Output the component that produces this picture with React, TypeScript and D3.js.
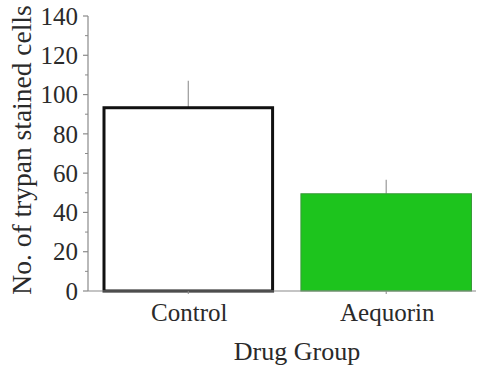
import React from "react";
import * as d3 from "d3";

const categories = ["Control", "Aequorin"];
const means = [93.3, 49.5];
const errors = [13.7, 7.2];
const yTicks = [0, 20, 40, 60, 80, 100, 120, 140];
const minorTicks = [10, 30, 50, 70, 90, 110, 130];
const fills = ["#ffffff", "#1dc41d"];
const strokes = ["#111111", "#3a9a3a"];
const strokeWidths = [3, 1];

export default function App() {
  const W = 481, H = 367;
  const left = 88, right = 476, top = 16, bottom = 291;
  const y = d3.scaleLinear().domain([0, 140]).range([bottom, top]);
  const x = d3.scaleBand().domain(categories).range([102.5, 472]).paddingInner(0.133).paddingOuter(0);
  const font = "'Liberation Serif', 'Times New Roman', serif";
  const textColor = "#2a2a2a";
  const axisColor = "#8a8a8a";
  return (
    <svg width={W} height={H} style={{ position: "absolute", left: 0, top: 0, background: "#fff" }}>
      {categories.map((c, i) => {
        const x0 = x(c)!;
        const bw = x.bandwidth();
        const sw = strokeWidths[i];
        return (
          <g key={c}>
            <line x1={x0 + bw / 2} x2={x0 + bw / 2} y1={y(means[i] + errors[i])} y2={y(means[i])} stroke="#999" strokeWidth={1.2} />
            <rect x={x0 + sw / 2} y={y(means[i])} width={bw - sw} height={bottom - y(means[i])} fill={fills[i]} stroke={strokes[i]} strokeWidth={sw} />
          </g>
        );
      })}
      <line x1={left} x2={left} y1={top} y2={bottom} stroke={axisColor} strokeWidth={1.2} />
      {yTicks.map((t) => (
        <g key={t}>
          <line x1={left - 5} x2={left} y1={y(t)} y2={y(t)} stroke={axisColor} strokeWidth={1.2} />
          <text x={left - 10} y={y(t)} dy="0.35em" textAnchor="end" fontFamily={font} fontSize={25} fill={textColor}>{t}</text>
        </g>
      ))}
      {minorTicks.map((t) => (
        <line key={t} x1={left - 3} x2={left} y1={y(t)} y2={y(t)} stroke={axisColor} strokeWidth={1} />
      ))}
      <line x1={left} x2={right} y1={bottom} y2={bottom} stroke={axisColor} strokeWidth={1.2} />
      {categories.map((c) => (
        <g key={c}>
          <line x1={x(c)! + x.bandwidth() / 2} x2={x(c)! + x.bandwidth() / 2} y1={bottom} y2={bottom + 3} stroke={axisColor} strokeWidth={1} />
          <text x={x(c)! + x.bandwidth() / 2 + 1} y={bottom + 30} textAnchor="middle" fontFamily={font} fontSize={25} fill={textColor}>{c}</text>
        </g>
      ))}
      <text x={297} y={360} textAnchor="middle" fontFamily={font} fontSize={26} fill={textColor}>Drug Group</text>
      <text transform={`translate(31, ${150}) rotate(-90)`} textAnchor="middle" fontFamily={font} fontSize={27.5} fill={textColor}>No. of trypan stained cells</text>
    </svg>
  );
}
